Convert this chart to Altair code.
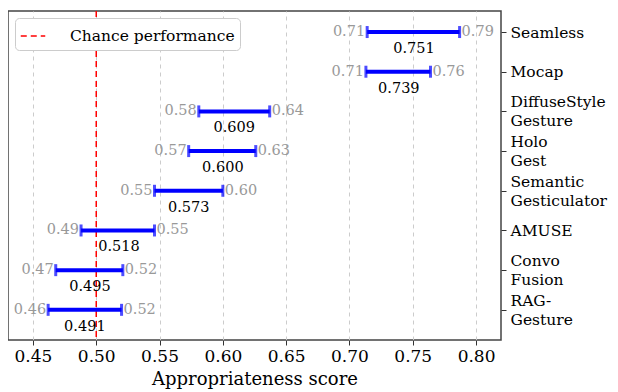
import json
import altair as alt
import pandas as pd

names = ["Seamless", "Mocap", "DiffuseStyle\nGesture", "Holo\nGest",
         "Semantic\nGesticulator", "AMUSE", "Convo\nFusion", "RAG-\nGesture"]
low = [0.714, 0.713, 0.581, 0.573, 0.546, 0.488, 0.468, 0.462]
high = [0.787, 0.764, 0.637, 0.626, 0.600, 0.546, 0.521, 0.520]
mean = [0.751, 0.739, 0.609, 0.600, 0.573, 0.518, 0.495, 0.491]
x_ticks = [0.45, 0.50, 0.55, 0.60, 0.65, 0.70, 0.75, 0.80]
chance = 0.5
legend_label = "Chance performance"

df = pd.DataFrame({"name": names, "idx": list(range(len(names))),
                   "low": low, "high": high, "mean": mean})
chance_df = pd.DataFrame({"x": [chance], "lab": [legend_label]})

FONT = "'DejaVu Serif', 'Liberation Serif', serif"
label_arr = json.dumps([n.replace("\n", "|") for n in names])
label_expr = f"split({label_arr}[datum.value], '|')"
multi_idx = json.dumps([i for i, n in enumerate(names) if "\n" in n])

xscale = alt.Scale(domain=[0.4303, 0.8197], nice=False, zero=False)
yscale = alt.Scale(domain=[-0.53, 7.76], nice=False, zero=False, reverse=True)

base = alt.Chart(df)

x_enc = alt.X("low:Q", scale=xscale,
              axis=alt.Axis(values=x_ticks, format=".2f", title="Appropriateness score",
                            grid=True, gridDash=[4, 4], gridColor="#cccccc", gridWidth=1,
                            labelFontSize=17, titleFontSize=18, labelFont=FONT, titleFont=FONT,
                            labelColor="black", titleColor="black", tickColor="#333",
                            tickSize=5, domain=False, labelPadding=3, titlePadding=6,
                            titleFontWeight="normal"))
y_enc = alt.Y("idx:Q", scale=yscale,
              axis=alt.Axis(orient="right", values=list(range(len(names))), labelExpr=label_expr,
                            title=None, grid=False, labelFontSize=15.5, labelFont=FONT,
                            labelColor="black", tickColor="#333", tickSize=5, domain=False,
                            labelPadding=4, labelLineHeight=19, labelBaseline="middle",
                            labelOffset={"condition": {"test": f"indexof({multi_idx}, datum.value) >= 0",
                                                       "value": -9.5}, "value": 0}))

bars = base.mark_rule(color="#0000ff", strokeWidth=4).encode(x=x_enc, x2="high:Q", y=y_enc)
cap_lo = base.mark_tick(color="#0000ff", orient="vertical", size=12, thickness=3).encode(
    x=alt.X("low:Q", scale=xscale), y=alt.Y("idx:Q", scale=yscale))
cap_hi = base.mark_tick(color="#0000ff", orient="vertical", size=12, thickness=3).encode(
    x=alt.X("high:Q", scale=xscale), y=alt.Y("idx:Q", scale=yscale))
lo_txt = base.mark_text(align="right", baseline="middle", dx=-2, font=FONT, fontSize=14.5,
                        color="#999999").encode(
    x=alt.X("low:Q", scale=xscale), y=alt.Y("idx:Q", scale=yscale),
    text=alt.Text("low:Q", format=".2f"))
hi_txt = base.mark_text(align="left", baseline="middle", dx=2, font=FONT, fontSize=14.5,
                        color="#999999").encode(
    x=alt.X("high:Q", scale=xscale), y=alt.Y("idx:Q", scale=yscale),
    text=alt.Text("high:Q", format=".2f"))
mean_txt = base.mark_text(align="center", baseline="middle", dy=17, font=FONT, fontSize=14.5,
                          color="black").encode(
    x=alt.X("mean:Q", scale=xscale), y=alt.Y("idx:Q", scale=yscale),
    text=alt.Text("mean:Q", format=".3f"))

chance_rule = alt.Chart(chance_df).mark_rule(strokeDash=[6, 4], strokeWidth=1.5).encode(
    x=alt.X("x:Q", scale=xscale),
    color=alt.Color("lab:N", scale=alt.Scale(domain=[legend_label], range=["#ff0000"]),
                    legend=alt.Legend(title=None, orient="top-left", offset=7,
                                      symbolType="stroke", symbolDash=[6, 4],
                                      symbolStrokeWidth=1.5, symbolSize=600,
                                      labelFont=FONT, labelFontSize=15.5, labelColor="black",
                                      labelLimit=400,
                                      fillColor="white", strokeColor="#cccccc",
                                      cornerRadius=4, padding=5, labelOffset=24)))

chart = alt.layer(chance_rule, bars, cap_lo, cap_hi, lo_txt, hi_txt, mean_txt).properties(
    width=493, height=329,
    padding={"left": 0, "top": 2, "right": 2, "bottom": 5}
).configure_view(stroke="#444444", strokeWidth=1.5)

chart.save("out.html", embed_options={"renderer": "svg", "actions": False})
